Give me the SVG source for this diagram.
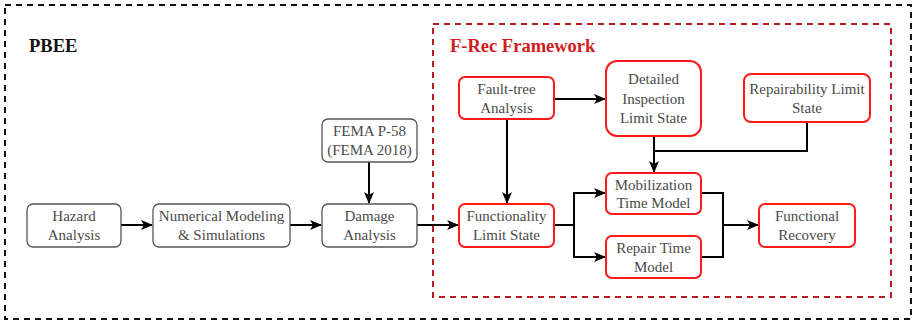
<svg xmlns="http://www.w3.org/2000/svg" width="914" height="322" viewBox="0 0 914 322">
<style>
.t{font-size:15px;fill:#4a4a4a;text-anchor:middle}
.gn{fill:#fff;stroke:#555;stroke-width:1.3}
.rn{fill:#fff;stroke:#ff1a1a;stroke-width:2}
.c{fill:none;stroke:#000;stroke-width:2}
.h{font-weight:bold;font-size:18.5px}
</style>
<defs>
<marker id="a" viewBox="0 0 12 10" refX="11" refY="5" markerWidth="12" markerHeight="10" markerUnits="userSpaceOnUse" orient="auto">
<path d="M0,0 L12,5 L0,10 L3,5 Z" fill="#000"/>
</marker>
</defs>
<rect x="5" y="5" width="906" height="314" fill="none" stroke="#111" stroke-width="2" stroke-dasharray="6,5"/>
<rect x="433" y="24" width="458" height="273" fill="none" stroke="#b81c22" stroke-width="2" stroke-dasharray="6,5"/>
<g font-family="Liberation Serif, DejaVu Serif, serif">
<text class="h" x="29" y="52" fill="#111">PBEE</text>
<text class="h" x="450" y="52" fill="#d21c22">F-Rec Framework</text>
</g>
<g id="connectors">
<path class="c" d="M121,225 H152" marker-end="url(#a)"/>
<path class="c" d="M290,225 H321" marker-end="url(#a)"/>
<path class="c" d="M369,162 V203" marker-end="url(#a)"/>
<path class="c" d="M417,225 H458" marker-end="url(#a)"/>
<path class="c" d="M554,99 H605" marker-end="url(#a)"/>
<path class="c" d="M507,119 V203" marker-end="url(#a)"/>
<path class="c" d="M807,122 V151 H654"/>
<path class="c" d="M654,136 V172" marker-end="url(#a)"/>
<path class="c" d="M554,225 H574"/>
<path class="c" d="M574,225 V193 H605" marker-end="url(#a)"/>
<path class="c" d="M574,225 V257 H605" marker-end="url(#a)"/>
<path class="c" d="M701,193 H723 V257 H701"/>
<path class="c" d="M723,225 H758" marker-end="url(#a)"/>
</g>
<g font-family="Liberation Serif, DejaVu Serif, serif">
<g id="hazard"><rect class="gn" x="27" y="204" width="94" height="43" rx="6"/><text class="t" x="74" y="221">Hazard</text><text class="t" x="74" y="240">Analysis</text></g>
<g id="numerical"><rect class="gn" x="153" y="204" width="137" height="43" rx="6"/><text class="t" x="221.5" y="221">Numerical Modeling</text><text class="t" x="221.5" y="240">&amp; Simulations</text></g>
<g id="damage"><rect class="gn" x="322" y="204" width="95" height="43" rx="6"/><text class="t" x="369.5" y="221">Damage</text><text class="t" x="369.5" y="240">Analysis</text></g>
<g id="fema"><rect class="gn" x="322" y="119" width="95" height="43" rx="6"/><text class="t" x="369.5" y="136">FEMA P-58</text><text class="t" x="369.5" y="155">(FEMA 2018)</text></g>
<g id="faulttree"><rect class="rn" x="459" y="77" width="95" height="42" rx="6"/><text class="t" x="506.5" y="94">Fault-tree</text><text class="t" x="506.5" y="113">Analysis</text></g>
<g id="detailed"><rect class="rn" x="606" y="61" width="95" height="75" rx="11"/><text class="t" x="653.5" y="84">Detailed</text><text class="t" x="653.5" y="104">Inspection</text><text class="t" x="653.5" y="123">Limit State</text></g>
<g id="repairability"><rect class="rn" x="744" y="74" width="126" height="48" rx="7"/><text class="t" x="807" y="94">Repairability Limit</text><text class="t" x="807" y="113">State</text></g>
<g id="functionality"><rect class="rn" x="459" y="204" width="95" height="43" rx="6"/><text class="t" x="506.5" y="221">Functionality</text><text class="t" x="506.5" y="240">Limit State</text></g>
<g id="mobilization"><rect class="rn" x="606" y="173" width="95" height="41" rx="6"/><text class="t" x="653.5" y="190">Mobilization</text><text class="t" x="653.5" y="208">Time Model</text></g>
<g id="repairtime"><rect class="rn" x="606" y="236" width="95" height="42" rx="6"/><text class="t" x="653.5" y="253">Repair Time</text><text class="t" x="653.5" y="272">Model</text></g>
<g id="recovery"><rect class="rn" x="759" y="204" width="96" height="43" rx="6"/><text class="t" x="807" y="221">Functional</text><text class="t" x="807" y="240">Recovery</text></g>
</g>
</svg>
